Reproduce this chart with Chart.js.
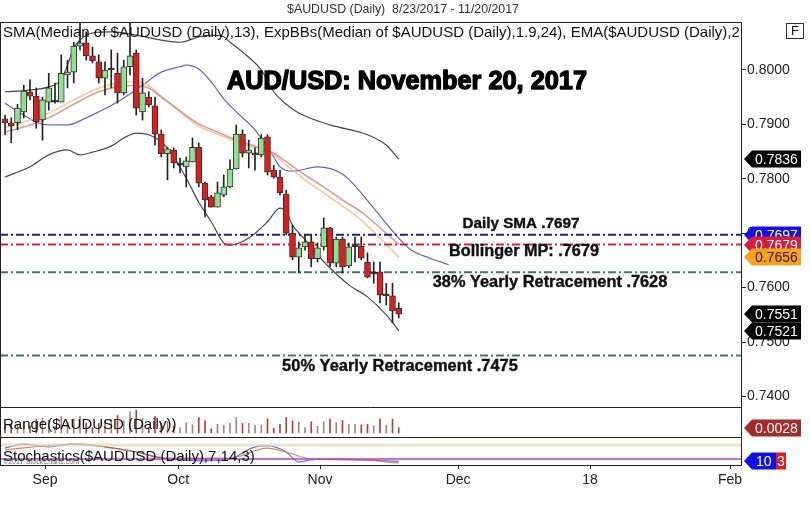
<!DOCTYPE html>
<html><head><meta charset="utf-8">
<script src="https://cdn.jsdelivr.net/npm/chart.js@4.4.1/dist/chart.umd.min.js"></script>
<style>
html,body{margin:0;padding:0;background:#fff;}
#wrap{position:relative;width:810px;height:524px;overflow:hidden;background:#fff;}
canvas{position:absolute;left:0;}
</style></head><body>
<div id="wrap">
<canvas id="main" width="810" height="408" style="top:0;width:810px;height:408px"></canvas>
<canvas id="rng" width="810" height="30" style="top:408px;width:810px;height:30px"></canvas>
<canvas id="sto" width="810" height="86" style="top:438px;width:810px;height:86px"></canvas>
</div>
<script>
// ---- data (index 0 = 8/23/2017, one per trading day) ----
const opens  = [0.7910,0.7903,0.7903,0.7923,0.7960,0.7952,0.7908,0.7941,0.7941,0.7941,
  0.7991,0.7996,0.8044,0.8050,0.8026,0.8015,0.7985,0.8000,0.7994,0.7958,
  0.8006,0.8031,0.7923,0.7950,0.7934,0.7882,0.7846,0.7853,0.7825,0.7822,
  0.7831,0.7858,0.7792,0.7767,0.7748,0.7770,0.7785,0.7818,0.7882,0.7847,
  0.7844,0.7844,0.7877,0.7816,0.7803,0.7772,0.7700,0.7656,0.7675,0.7684,
  0.7653,0.7675,0.7710,0.7645,0.7689,0.7640,0.7675,0.7676,0.7647,0.7625,
  0.7629,0.7585,0.7585,0.7562];
const highs  = [0.7917,0.7912,0.7937,0.7972,0.7982,0.7967,0.7950,0.7994,0.7976,0.8028,
  0.8018,0.8051,0.8125,0.8070,0.8042,0.8028,0.8015,0.8037,0.8031,0.8018,
  0.8103,0.8037,0.7985,0.7960,0.7950,0.7890,0.7858,0.7857,0.7838,0.7840,
  0.7875,0.7866,0.7794,0.7770,0.7794,0.7807,0.7835,0.7899,0.7890,0.7871,
  0.7857,0.7881,0.7881,0.7825,0.7816,0.7779,0.7715,0.7684,0.7697,0.7697,
  0.7682,0.7728,0.7711,0.7693,0.7693,0.7682,0.7693,0.7693,0.7664,0.7647,
  0.7647,0.7608,0.7608,0.7572];
const lows   = [0.7881,0.7866,0.7890,0.7912,0.7945,0.7893,0.7871,0.7926,0.7939,0.7941,
  0.7967,0.7976,0.8037,0.8018,0.8013,0.7976,0.7954,0.7967,0.7939,0.7954,
  0.7991,0.7917,0.7908,0.7932,0.7862,0.7840,0.7798,0.7820,0.7811,0.7785,
  0.7831,0.7785,0.7730,0.7748,0.7748,0.7767,0.7783,0.7818,0.7840,0.7820,
  0.7816,0.7840,0.7807,0.7801,0.7770,0.7697,0.7651,0.7627,0.7669,0.7638,
  0.7647,0.7669,0.7638,0.7638,0.7627,0.7636,0.7647,0.7651,0.7618,0.7608,
  0.7572,0.7568,0.7535,0.7544];
const closes = [0.7903,0.7897,0.7930,0.7961,0.7952,0.7905,0.7945,0.7967,0.7941,0.7994,
  0.7996,0.8044,0.8050,0.8026,0.8017,0.7985,0.8000,0.8000,0.7958,0.8006,
  0.8026,0.7930,0.7958,0.7936,0.7882,0.7846,0.7855,0.7829,0.7825,0.7833,
  0.7858,0.7792,0.7761,0.7748,0.7774,0.7785,0.7818,0.7882,0.7847,0.7853,
  0.7844,0.7875,0.7812,0.7803,0.7774,0.7700,0.7656,0.7673,0.7684,0.7653,
  0.7673,0.7710,0.7645,0.7689,0.7638,0.7675,0.7675,0.7654,0.7619,0.7625,
  0.7586,0.7585,0.7557,0.7551];
const rangeVals = [0.0036,0.0046,0.0047,0.0060,0.0037,0.0074,0.0079,0.0068,0.0037,0.0087,
  0.0051,0.0075,0.0088,0.0052,0.0029,0.0052,0.0061,0.0070,0.0092,0.0064,
  0.0112,0.0120,0.0077,0.0028,0.0088,0.0050,0.0060,0.0037,0.0027,0.0055,
  0.0044,0.0081,0.0064,0.0022,0.0046,0.0040,0.0052,0.0081,0.0050,0.0051,
  0.0041,0.0041,0.0074,0.0024,0.0046,0.0082,0.0064,0.0057,0.0028,0.0059,
  0.0035,0.0059,0.0073,0.0055,0.0066,0.0046,0.0046,0.0042,0.0046,0.0039,
  0.0075,0.0040,0.0073,0.0028];

// indicator lines (bar index, value)
const upperIdx = [0,4,7,9,10,11,12,14,17,21,25,28,31,33,35,36,38,41,43,45,47,52,58,61,63];
const upperVal = [0.7960,0.7963,0.7969,0.7982,0.8009,0.8040,0.8055,0.8068,0.8070,0.8064,0.8055,0.8051,0.8061,0.8064,0.8061,0.8051,0.8033,0.8000,0.7960,0.7937,0.7921,0.7899,0.7881,0.7862,0.7836];
const lowerIdx = [0,4,7,10,12,14,17,19,21,23,25,27,29,31,33,35,36,39,42,44,45,46,48,50,52,55,58,61,63];
const lowerVal = [0.7803,0.7822,0.7844,0.7853,0.7844,0.7849,0.7860,0.7875,0.7884,0.7881,0.7868,0.7840,0.7801,0.7757,0.7721,0.7682,0.7678,0.7691,0.7721,0.7746,0.7739,0.7715,0.7688,0.7660,0.7636,0.7605,0.7583,0.7550,0.7521];
const midIdx = [0,4,7,11,15,18,21,23,25,28,31,34,37,40,43,45,48,51,54,57,60,63];
const midVal = [0.7886,0.7899,0.7912,0.7937,0.7960,0.7969,0.7972,0.7967,0.7950,0.7925,0.7901,0.7886,0.7871,0.7860,0.7847,0.7831,0.7807,0.7785,0.7761,0.7739,0.7710,0.7679];
const emaIdx = [0,4,7,11,15,18,21,23,25,28,31,34,37,40,43,45,48,51,54,57,60,63];
const emaVal = [0.7893,0.7908,0.7921,0.7945,0.7967,0.7976,0.7978,0.7971,0.7952,0.7923,0.7897,0.7882,0.7868,0.7857,0.7844,0.7825,0.7798,0.7774,0.7750,0.7724,0.7691,0.7656];
const smaIdx = [0,3,5,7,10,13,15,18,22,25,28,29,31,33,35,37,40,43,44,46,50,54,56,59,63,65,68,71];
const smaVal = [0.7939,0.7917,0.7904,0.7899,0.7899,0.7912,0.7923,0.7941,0.7972,0.7996,0.8006,0.8009,0.8002,0.7978,0.7947,0.7923,0.7890,0.7840,0.7822,0.7814,0.7822,0.7809,0.7787,0.7746,0.7691,0.7669,0.7654,0.7642];

const stochKIdx = [0,3,7,11,16,21,24,28,32,36,40,42,45,47,49,53,57,63];
const stochKVal = [67,84,72,84,72,50,29,16,12,20,72,76,50,7,16,20,16,10];
const stochDIdx = [0,8,12,16,21,26,36,42,45,49,57,63];
const stochDVal = [59,80,84,72,50,24,24,67,50,20,16,3];

const levelVals   = [0.7697, 0.7679, 0.7628, 0.7475];
const levelColors = ['#1c1c9a', '#d8203c', '#3d7a5c', '#3d7a5c'];
const levelTexts  = ['Daily SMA .7697', 'Bollinger MP: .7679', '38% Yearly Retracement .7628', '50% Yearly Retracement .7475'];

const yTicks = [0.74, 0.75, 0.76, 0.77, 0.78, 0.79, 0.80];
const xTickIdx = [6.4, 27.7, 50.4, 72.5, 93.6, 116];
const xTickLabels = ['Sep', 'Oct', 'Nov', 'Dec', '18', 'Feb'];

const tagVals = [0.7836, 0.7697, 0.7679, 0.7656, 0.7551, 0.7521];
const tagBg   = ['#000', '#1010e8', '#dc1c3c', '#f4a21c', '#000', '#000'];
const tagFg   = ['#fff', '#fff', '#fff', '#3a1a00', '#fff', '#fff'];

// ---- layout constants ----
const X_MIN = -0.8, X_MAX = 117.76;
const AXIS_W = 69;
const FONT = '"Liberation Sans", Arial, sans-serif';

const idx = opens.map((_, i) => i);
const pts = (ix, vals) => ix.map((x, k) => ({x: x, y: vals[k]}));

function tagShape(ctx, y, x0, x1, h, bg) {
  ctx.beginPath();
  ctx.moveTo(x0, y);
  ctx.lineTo(x0 + 8, y - h / 2);
  ctx.lineTo(x1, y - h / 2);
  ctx.lineTo(x1, y + h / 2);
  ctx.lineTo(x0 + 8, y + h / 2);
  ctx.closePath();
  ctx.fillStyle = bg;
  ctx.fill();
}
function fitText(ctx, txt, weight, family, width, x, y, strokeW) {
  let size = 20;
  ctx.font = weight + ' ' + size + 'px ' + family;
  size = size * width / ctx.measureText(txt).width;
  ctx.font = weight + ' ' + size.toFixed(2) + 'px ' + family;
  ctx.fillText(txt, x, y);
  if (strokeW) {
    ctx.lineWidth = strokeW;
    ctx.strokeStyle = ctx.fillStyle;
    ctx.lineJoin = 'round';
    ctx.strokeText(txt, x, y);
  }
}

const mainPlugin = {
  id: 'mainDeco',
  afterDatasetsDraw(chart) {
    const ctx = chart.ctx, ca = chart.chartArea;
    ctx.save();
    ctx.fillStyle = '#111';
    ctx.textBaseline = 'middle';
    ctx.font = '15px ' + FONT;
    ctx.textAlign = 'left';
    ctx.save();
    ctx.beginPath(); ctx.rect(ca.left, ca.top, ca.right - ca.left - 2, ca.bottom - ca.top); ctx.clip();
    ctx.fillText('SMA(Median of $AUDUSD (Daily),13), ExpBBs(Median of $AUDUSD (Daily),1.9,24), EMA($AUDUSD (Daily),20)', 3, 33);
    ctx.restore();
    ctx.textAlign = 'center';
    ctx.fillStyle = '#000';
    fitText(ctx, 'AUD/USD: November 20, 2017', 'bold', FONT, 360, 407, 82, 1.4);
    ctx.fillStyle = '#111';
    fitText(ctx, levelTexts[0], 'bold', FONT, 117, 521, 224, 0.4);
    fitText(ctx, levelTexts[1], 'bold', FONT, 150, 524, 252, 0.4);
    fitText(ctx, levelTexts[2], 'bold', FONT, 235, 550, 282, 0.4);
    fitText(ctx, levelTexts[3], 'bold', FONT, 236, 400, 366, 0.4);
    // frame
    ctx.strokeStyle = '#222';
    ctx.lineWidth = 1;
    ctx.beginPath();
    ctx.moveTo(0.5, ca.top + 0.5); ctx.lineTo(ca.right + 0.5, ca.top + 0.5);
    ctx.moveTo(0.5, ca.top); ctx.lineTo(0.5, ca.bottom);
    ctx.moveTo(0, ca.bottom - 0.5); ctx.lineTo(ca.right, ca.bottom - 0.5);
    ctx.stroke();
    ctx.restore();
  },
  afterDraw(chart) {
    const ctx = chart.ctx, ys = chart.scales.y;
    ctx.save();
    ctx.fillStyle = '#333';
    ctx.textAlign = 'center';
    ctx.textBaseline = 'middle';
    fitText(ctx, '$AUDUSD (Daily)  8/23/2017 - 11/20/2017', '', FONT, 232, 403, 10);
    ctx.strokeStyle = '#333';
    ctx.lineWidth = 1;
    ctx.strokeRect(786.5, 23.5, 17, 15);
    ctx.fillStyle = '#111';
    ctx.font = '13px ' + FONT;
    ctx.fillText('F', 795, 31);
    ctx.font = '14px ' + FONT;
    ctx.textAlign = 'left';
    tagVals.forEach((v, k) => {
      const y = Math.round(ys.getPixelForValue(v));
      tagShape(ctx, y, 744, 801, 17, tagBg[k]);
      ctx.fillStyle = tagFg[k];
      ctx.fillText(v.toFixed(4), 755, y + 1);
    });
    ctx.restore();
  }
};

new Chart(document.getElementById('main'), {
  type: 'line',
  data: {
    datasets: [
      {type:'line', data: pts(upperIdx, upperVal), borderColor:'#4a4a4a', borderWidth:1.2, pointRadius:0, cubicInterpolationMode:'monotone', order:5},
      {type:'line', data: pts(lowerIdx, lowerVal), borderColor:'#4a4a4a', borderWidth:1.2, pointRadius:0, cubicInterpolationMode:'monotone', order:5},
      {type:'line', data: pts(midIdx, midVal), borderColor:'rgba(214,120,120,0.75)', borderWidth:1.6, pointRadius:0, cubicInterpolationMode:'monotone', order:5},
      {type:'line', data: pts(emaIdx, emaVal), borderColor:'rgba(240,190,120,0.8)', borderWidth:1.6, pointRadius:0, cubicInterpolationMode:'monotone', order:5},
      {type:'line', data: pts(smaIdx, smaVal), borderColor:'rgba(70,70,200,0.85)', borderWidth:1.2, pointRadius:0, cubicInterpolationMode:'monotone', order:5},
      ...levelVals.map((v, k) => ({type:'line', data:[{x:X_MIN,y:v},{x:X_MAX,y:v}], borderColor:levelColors[k], borderWidth:2, borderDash:[8,3,2,3], pointRadius:0, order:4})),
      {type:'bar', data: idx.map(i => ({x:i, y:[lows[i], highs[i]]})), backgroundColor:'#222', barThickness:1, grouped:false, order:2},
      {type:'bar', data: idx.map(i => ({x:i, y:[opens[i], closes[i]]})),
        backgroundColor: idx.map(i => Math.abs(closes[i]-opens[i]) < 0.00005 ? '#222' : (closes[i] > opens[i] ? '#8fe08f' : '#e01c1c')),
        borderColor:'#333', borderWidth:1, borderSkipped:false, barThickness:6, minBarLength:2, grouped:false, order:1}
    ]
  },
  options: {
    responsive:false, animation:false,
    layout:{padding:{top:22, left:0, right:0, bottom:0}},
    plugins:{legend:{display:false}, tooltip:{enabled:false}},
    scales:{
      x:{type:'linear', min:X_MIN, max:X_MAX, display:false, offset:false},
      y:{position:'right', min:0.73787, max:0.80882,
        afterBuildTicks: s => { s.ticks = yTicks.map(v => ({value:v})); },
        afterFit: s => { s.width = AXIS_W; s.paddingTop = 0; s.paddingBottom = 0; },
        ticks:{callback: v => Number(v).toFixed(4), font:{family:FONT, size:14}, color:'#222', padding:1},
        grid:{display:true, drawOnChartArea:false, drawTicks:true, tickLength:5, color:'#222'},
        border:{display:true, color:'#222'}}
    }
  },
  plugins:[mainPlugin]
});

// ---- Range panel ----
const rngPlugin = {
  id:'rngDeco',
  afterDraw(chart) {
    const ctx = chart.ctx, ca = chart.chartArea, ys = chart.scales.y;
    ctx.save();
    ctx.fillStyle = '#111';
    ctx.font = '15px ' + FONT;
    ctx.textBaseline = 'middle';
    ctx.fillText('Range($AUDUSD (Daily))', 3, 17);
    ctx.strokeStyle = '#222';
    ctx.lineWidth = 1;
    ctx.beginPath();
    ctx.moveTo(0.5, 0); ctx.lineTo(0.5, 30);
    ctx.moveTo(ca.right + 0.5, 0); ctx.lineTo(ca.right + 0.5, 30);
    ctx.moveTo(0, 29.5); ctx.lineTo(ca.right, 29.5);
    ctx.stroke();
    const last = rangeVals[rangeVals.length - 1];
    const y = Math.round(ys.getPixelForValue(last));
    tagShape(ctx, y, 744, 801, 17, '#a52a2a');
    ctx.fillStyle = '#fff';
    ctx.font = '14px ' + FONT;
    ctx.fillText(last.toFixed(4), 755, y + 1);
    ctx.restore();
  }
};
new Chart(document.getElementById('rng'), {
  type:'bar',
  data:{datasets:[{data: idx.map(i => ({x:i, y:rangeVals[i]})),
    backgroundColor: idx.map(i => closes[i] >= opens[i] ? 'rgba(150,110,110,0.85)' : 'rgba(175,40,40,0.9)'),
    barThickness:1, grouped:false}]},
  options:{
    responsive:false, animation:false,
    layout:{padding:{top:0, left:0, right:AXIS_W, bottom:0}},
    plugins:{legend:{display:false}, tooltip:{enabled:false}},
    scales:{
      x:{type:'linear', min:X_MIN, max:X_MAX, display:false, offset:false},
      y:{min:-0.00263, max:0.01316, display:false}
    }
  },
  plugins:[rngPlugin]
});

// ---- Stochastics panel ----
const stoPlugin = {
  id:'stoDeco',
  afterDraw(chart) {
    const ctx = chart.ctx, ca = chart.chartArea, ys = chart.scales.y;
    ctx.save();
    ctx.fillStyle = '#111';
    ctx.font = '15px ' + FONT;
    ctx.textBaseline = 'middle';
    ctx.fillText('Stochastics($AUDUSD (Daily),7,14,3)', 3, 19);
    ctx.fillStyle = '#666';
    ctx.font = '7px ' + FONT;
    ctx.fillText('\u00A92017 StockCharts.com', 3, 24);
    ctx.strokeStyle = '#222';
    ctx.lineWidth = 1;
    ctx.beginPath();
    ctx.moveTo(0.5, 0); ctx.lineTo(0.5, ca.bottom);
    ctx.moveTo(ca.right + 0.5, 0); ctx.lineTo(ca.right + 0.5, ca.bottom);
    ctx.stroke();
    const kLast = stochKVal[stochKVal.length - 1], dLast = stochDVal[stochDVal.length - 1];
    const y = Math.round(ys.getPixelForValue(kLast));
    tagShape(ctx, y, 744, 776, 17, '#1010e8');
    ctx.fillStyle = '#dc1c1c';
    ctx.fillRect(776, y - 8.5, 10, 17);
    ctx.font = '14px ' + FONT;
    ctx.fillStyle = '#fff';
    ctx.fillText(String(kLast), 756, y + 1);
    ctx.fillText(String(dLast), 777, y + 1);
    ctx.restore();
  }
};
new Chart(document.getElementById('sto'), {
  type:'line',
  data:{datasets:[
    {data:[{x:X_MIN,y:80},{x:X_MAX,y:80}], borderColor:'rgba(220,220,170,0.7)', borderWidth:3, pointRadius:0},
    {data:[{x:X_MIN,y:20},{x:X_MAX,y:20}], borderColor:'#b040c8', borderWidth:1.3, pointRadius:0},
    {data: pts(stochDIdx, stochDVal), borderColor:'rgba(225,100,50,0.8)', borderWidth:1.2, pointRadius:0, cubicInterpolationMode:'monotone'},
    {data: pts(stochKIdx, stochKVal), borderColor:'rgba(60,80,225,0.8)', borderWidth:1.2, pointRadius:0, cubicInterpolationMode:'monotone'}
  ]},
  options:{
    responsive:false, animation:false,
    layout:{padding:{top:0, left:0, right:AXIS_W, bottom:0}},
    plugins:{legend:{display:false}, tooltip:{enabled:false}},
    scales:{
      x:{type:'linear', min:X_MIN, max:X_MAX, offset:false,
        afterBuildTicks: s => { s.ticks = xTickIdx.map(v => ({value:v})); },
        afterFit: s => { s.height = 59; s.paddingLeft = 0; s.paddingRight = 0; },
        ticks:{autoSkip:false, maxRotation:0, padding:3, font:{family:FONT, size:14}, color:'#222',
          callback: (v, i) => xTickLabels[i]},
        grid:{display:true, drawOnChartArea:false, drawTicks:true, tickLength:4, color:'#222'},
        border:{display:true, color:'#222'}},
      y:{min:-5.6, max:110, display:false}
    }
  },
  plugins:[stoPlugin]
});
</script>
</body></html>
